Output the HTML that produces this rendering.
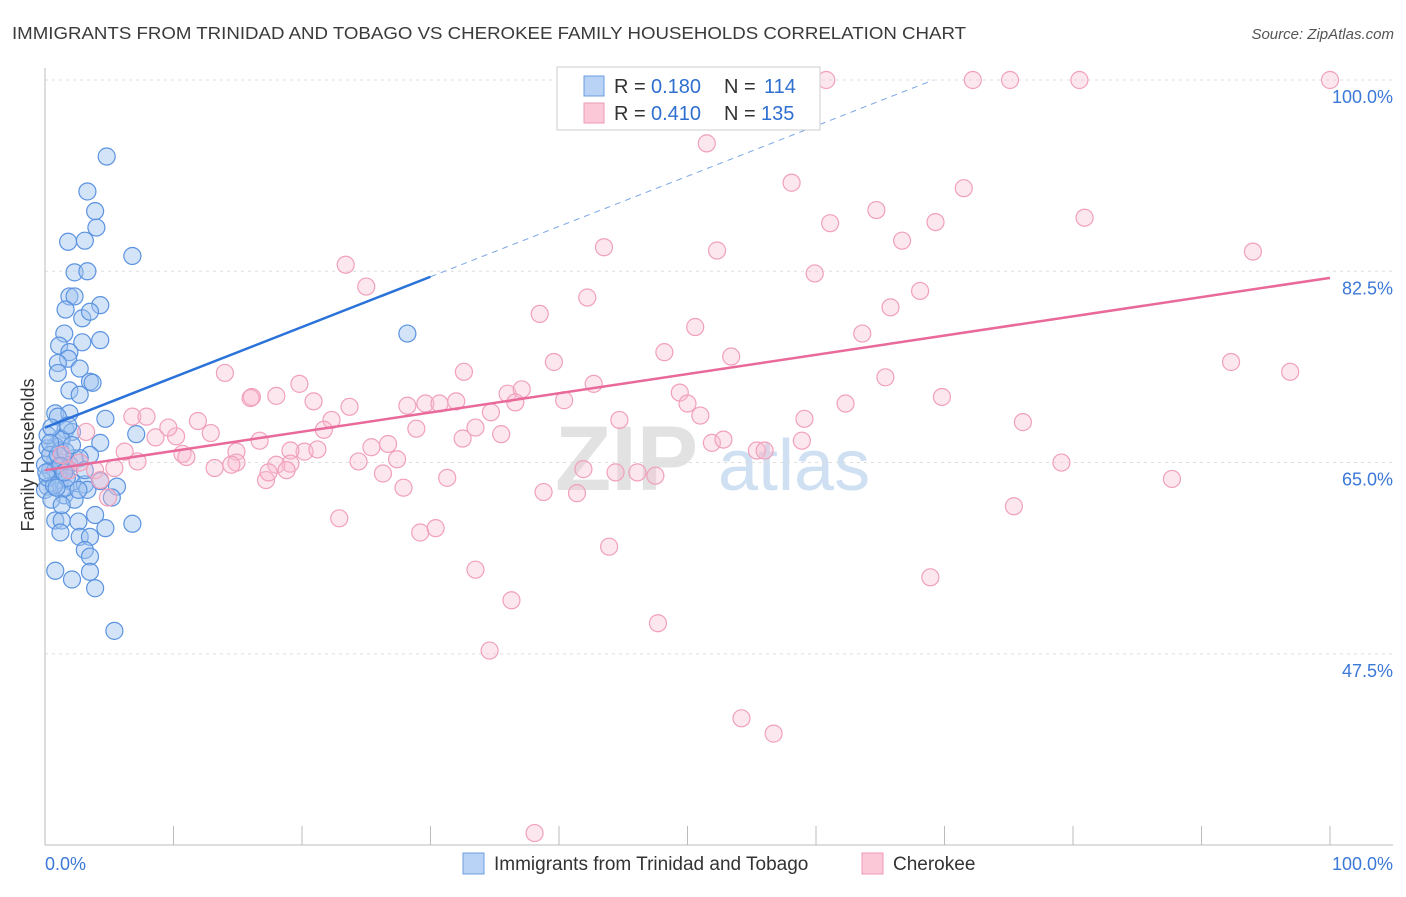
<!DOCTYPE html>
<html><head><meta charset="utf-8"><style>
body{margin:0;background:#fff;font-family:"Liberation Sans",sans-serif}
svg text{font-family:"Liberation Sans",sans-serif}
</style></head><body>
<svg id="chart" width="1406" height="892" xmlns="http://www.w3.org/2000/svg">
<text x="12" y="39" font-size="17.5" fill="#3a3a3a" textLength="954" lengthAdjust="spacingAndGlyphs">IMMIGRANTS FROM TRINIDAD AND TOBAGO VS CHEROKEE FAMILY HOUSEHOLDS CORRELATION CHART</text>
<text x="1394" y="39" font-size="15" fill="#555" text-anchor="end" font-style="italic">Source: ZipAtlas.com</text>
<g><text x="555" y="490" font-size="92" font-weight="bold" fill="#e2e2e2" font-family="Liberation Serif">ZIP</text><text x="718" y="490" font-size="72" fill="#cfe0f3">atlas</text></g>
<g id="grid"></g><g id="axes"></g><g id="pts"></g><g id="lines"></g>
<text transform="translate(34,455) rotate(-90)" font-size="18" fill="#333" text-anchor="middle">Family Households</text>
<g>
<rect x="557" y="67" width="263" height="63" fill="#fff" stroke="#ccc"/>
<rect x="584" y="76" width="20" height="20" fill="#b8d3f5" stroke="#6c9de0"/>
<text x="614" y="93" font-size="20" fill="#333">R =</text><text x="651" y="93" font-size="20" fill="#2f6fd0">0.180</text>
<text x="724" y="93" font-size="20" fill="#333">N =</text><text x="764" y="93" font-size="20" fill="#2f6fd0">114</text>
<rect x="584" y="103" width="20" height="20" fill="#fbc8d8" stroke="#ee9ab6"/>
<text x="614" y="120" font-size="20" fill="#333">R =</text><text x="651" y="120" font-size="20" fill="#2f6fd0">0.410</text>
<text x="724" y="120" font-size="20" fill="#333">N =</text><text x="761" y="120" font-size="20" fill="#2f6fd0">135</text>
</g>
<g><rect x="463" y="853" width="21" height="21" fill="#b8d3f5" stroke="#6c9de0"/><text x="494" y="870" font-size="19" fill="#333">Immigrants from Trinidad and Tobago</text></g>
<g><rect x="862" y="853" width="21" height="21" fill="#fbc8d8" stroke="#ee9ab6"/><text x="893" y="870" font-size="19" fill="#333">Cherokee</text></g>
</svg>
<script>
const yTicks=[100,82.5,65,47.5];
const yTickLabels=["100.0%","82.5%","65.0%","47.5%"];
const xTickLabels=["0.0%","100.0%"];
const blueX=[4.8,3.3,3.9,4.0,1.8,3.1,2.3,3.3,6.8,1.9,2.3,4.3,1.6,2.9,3.5,28.2,1.5,4.3,2.9,1.1,1.9,1.8,2.7,1.0,1.0,3.5,3.7,1.9,2.7,0.8,1.9,1.0,4.7,1.6,7.1,2.1,1.2,0.8,4.3,3.5,0.2,0.8,1.3,0.4,1.6,1.2,0.2,2.1,3.1,3.3,5.6,4.3,5.2,1.5,2.3,3.9,0.8,1.3,2.6,4.7,6.8,1.2,2.7,3.5,3.1,3.5,0.8,2.1,3.5,3.9,5.4,0.0,0.4,1.2,2.3,0.2,1.0,1.6,0.0,0.5,1.9,2.7,0.8,1.3,1.8,0.5,1.0,1.6,0.2,2.1,3.1,2.6,1.3,0.7,0.1,1.2,1.7,0.4,0.9,1.5];
const blueY=[93.0,89.8,88.0,86.5,85.2,85.3,82.4,82.5,83.9,80.2,80.2,79.4,79.0,78.2,78.8,76.8,76.8,76.2,76.0,75.7,75.1,74.5,73.6,74.1,73.2,72.4,72.3,71.6,71.2,69.5,69.5,69.2,69.0,68.0,67.6,67.8,67.2,66.5,66.8,65.7,66.3,65.2,65.0,64.3,64.3,63.4,62.8,63.2,63.0,62.5,62.8,63.3,61.8,62.0,61.6,60.2,59.7,59.7,59.6,59.0,59.4,58.6,58.2,58.2,57.0,56.4,55.1,54.3,55.0,53.5,49.6,64.8,65.7,66.1,65.4,67.5,63.9,62.7,62.5,61.6,64.8,65.4,64.3,67.1,68.4,68.2,65.7,66.0,63.6,66.6,64.3,62.5,61.1,62.9,64.1,64.7,63.6,66.8,62.7,64.1];
const pinkX=[53.7,60.8,72.2,75.1,80.5,100,51.5,58.1,71.5,64.7,61.1,69.3,80.9,66.7,43.5,52.3,94.0,23.4,59.9,25.0,68.1,42.2,65.8,38.5,50.6,63.6,48.2,53.4,92.3,39.6,96.9,32.6,65.4,14.0,42.7,19.8,16.1,16.0,18.0,36.0,37.1,49.4,40.4,50.0,62.3,69.8,20.9,23.7,28.2,29.6,30.7,32.0,36.6,34.7,51.0,59.1,76.1,44.7,6.8,7.9,11.9,22.3,3.2,33.5,8.6,10.2,9.6,12.9,28.9,32.5,35.5,21.7,16.7,20.2,21.2,14.9,19.1,19.1,14.9,18.0,10.7,6.2,26.7,25.4,7.2,11.0,13.2,14.5,2.7,3.9,5.4,24.4,26.3,27.4,18.8,17.2,17.4,41.9,44.4,46.1,47.5,31.3,27.9,38.8,41.4,58.9,51.9,52.8,55.4,56.0,79.1,87.7,75.4,29.2,30.4,22.9,43.9,33.5,36.3,68.9,47.7,34.6,54.2,56.7,38.1,4.3,4.9,1.9,1.3];
const pinkY=[99.7,100,100,100,100,100,94.2,90.6,90.1,88.1,86.9,87.0,87.4,85.3,84.7,84.4,84.3,83.1,82.3,81.1,80.7,80.1,79.2,78.6,77.4,76.8,75.1,74.7,74.2,74.2,73.3,73.3,72.8,73.2,72.2,72.2,71.0,70.9,71.1,71.3,71.7,71.4,70.7,70.4,70.4,71.0,70.6,70.1,70.2,70.4,70.4,70.6,70.5,69.6,69.3,69.0,68.7,68.9,69.2,69.2,68.8,68.9,67.8,68.2,67.3,67.4,68.2,67.7,68.1,67.2,67.6,68.0,67.0,66.0,66.2,66.0,66.1,64.9,65.0,64.8,65.8,66.0,66.7,66.4,65.1,65.5,64.5,64.8,65.0,64.3,64.5,65.1,64.0,65.3,64.3,63.4,64.1,64.4,64.1,64.1,63.8,63.6,62.7,62.3,62.2,67.0,66.8,67.1,66.1,66.1,65.0,63.5,61.0,58.6,59.0,59.9,57.3,55.2,52.4,54.5,50.3,47.8,41.6,40.2,31.1,63.4,61.8,64.3,65.7];
const blueLine=[68.2,0.46];
const pinkLine=[64.3,0.176];
const NS="http://www.w3.org/2000/svg";
const sx=v=>45+v*12.85;
const sy=v=>80+(100-v)*10.93;
function mk(tag,attrs,parent){const e=document.createElementNS(NS,tag);for(const k in attrs)e.setAttribute(k,attrs[k]);document.getElementById(parent).appendChild(e);return e;}
yTicks.forEach((t,i)=>{
 const l=mk('line',{x1:45,x2:1393,y1:sy(t),y2:sy(t),stroke:'#ddd','stroke-dasharray':'3,4'},'grid');
 
 
 const tx=mk('text',{x:1393,y:sy(t)+23,'font-size':18,fill:'#3b78d8','text-anchor':'end'},'grid');
 tx.textContent=yTickLabels[i];
 
 
});
const ax=mk('line',{x1:45,x2:45,y1:68,y2:845,stroke:'#bbb'},'axes');


const bx=mk('line',{x1:45,x2:1393,y1:845,y2:845,stroke:'#bbb'},'axes');


for(let i=0;i<=10;i++){
 const t=mk('line',{x1:sx(i*10),x2:sx(i*10),y1:826,y2:845,stroke:'#bbb'},'axes');
 
 
}
[[0,'start',45],[100,'end',1393]].forEach((d,i)=>{
 const t=mk('text',{x:d[2],y:870,'font-size':18,fill:'#3b78d8','text-anchor':d[1]},'axes');
 t.textContent=xTickLabels[i];
 
 
});
blueX.forEach((x,i)=>{
 const c=mk('circle',{cx:sx(x),cy:sy(blueY[i]),r:8.5,fill:'rgba(160,196,240,0.45)',stroke:'#5b93e0','stroke-width':1.2},'pts');
 
 
});
pinkX.forEach((x,i)=>{
 const c=mk('circle',{cx:sx(x),cy:sy(pinkY[i]),r:8.5,fill:'rgba(248,186,206,0.35)',stroke:'#f0a0bb','stroke-width':1.2},'pts');
 
 
});
const bEnd=30, bTop=(100-blueLine[0])/blueLine[1];
const l1=mk('line',{x1:sx(0),y1:sy(blueLine[0]),x2:sx(bEnd),y2:sy(blueLine[0]+blueLine[1]*bEnd),stroke:'#2a72d9','stroke-width':2.5},'lines');


const l2=mk('line',{x1:sx(bEnd),y1:sy(blueLine[0]+blueLine[1]*bEnd),x2:sx(bTop),y2:sy(100),stroke:'#7aa6e6','stroke-width':1,'stroke-dasharray':'6,5'},'lines');


const l3=mk('line',{x1:sx(0),y1:sy(pinkLine[0]),x2:sx(100),y2:sy(pinkLine[0]+pinkLine[1]*100),stroke:'#e8699a','stroke-width':2.5},'lines');


</script>
</body></html>
